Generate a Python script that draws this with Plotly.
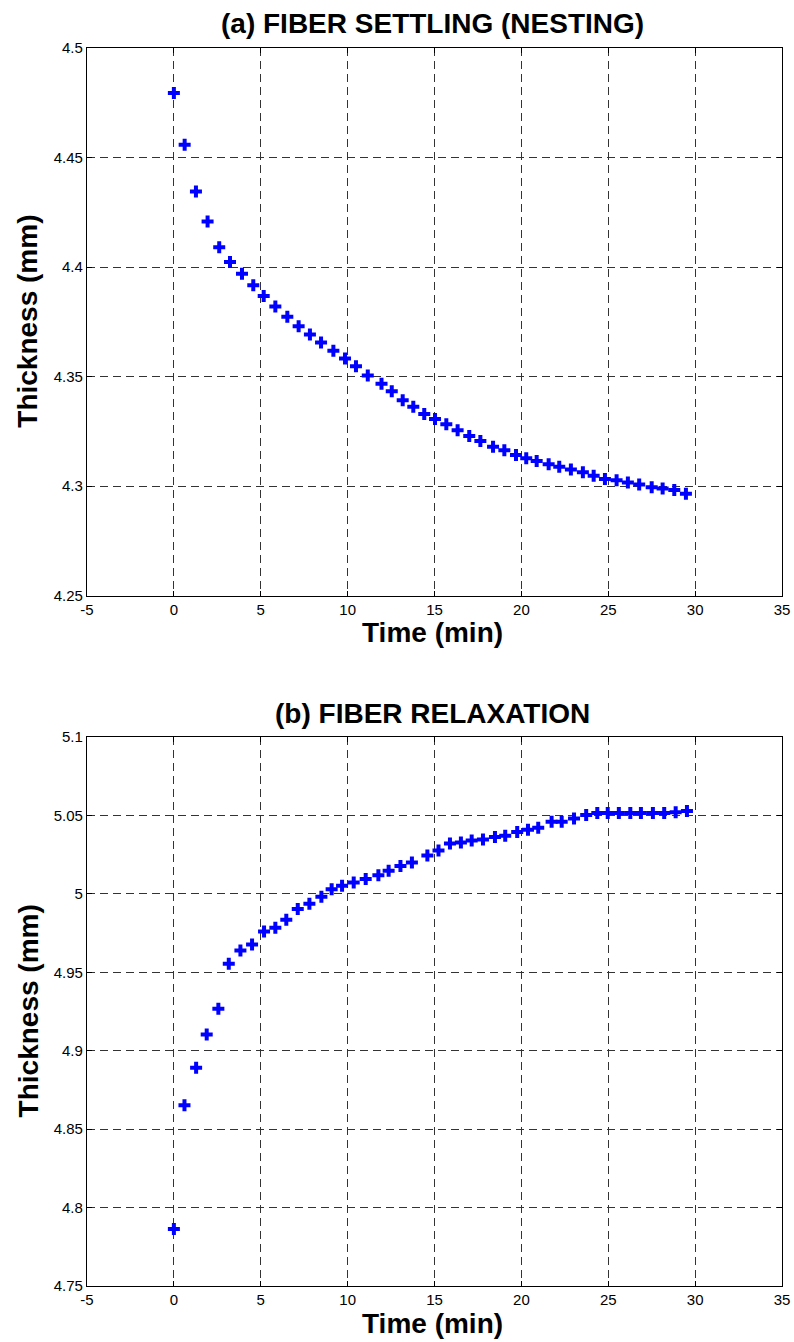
import plotly.graph_objects as go

# ---------------- data ----------------
time_a = [0, 0.62, 1.27, 1.94, 2.61, 3.23, 3.92, 4.57, 5.17, 5.84, 6.53, 7.18, 7.83, 8.47,
          9.18, 9.85, 10.48, 11.16, 11.95, 12.54, 13.17, 13.78, 14.41, 15.03, 15.68, 16.33,
          17.0, 17.64, 18.37, 19.02, 19.69, 20.28, 20.88, 21.57, 22.18, 22.85, 23.54, 24.16,
          24.81, 25.48, 26.13, 26.78, 27.50, 28.13, 28.80, 29.47]
thick_a = [4.4795, 4.4558, 4.4345, 4.4208, 4.4091, 4.4023, 4.3970, 4.3917, 4.3868, 4.3820,
           4.3773, 4.3730, 4.3692, 4.3656, 4.3618, 4.3583, 4.3547, 4.3505, 4.3468, 4.3433,
           4.3392, 4.3362, 4.3329, 4.3306, 4.3283, 4.3255, 4.3229, 4.3206, 4.3180, 4.3164,
           4.3142, 4.3127, 4.3115, 4.3100, 4.3089, 4.3076, 4.3064, 4.3047, 4.3033, 4.3027,
           4.3017, 4.3008, 4.2995, 4.2989, 4.2983, 4.2965]

time_b = [0, 0.61, 1.28, 1.89, 2.56, 3.16, 3.83, 4.50, 5.19, 5.84, 6.47, 7.13, 7.80, 8.49,
          9.08, 9.68, 10.35, 11.04, 11.77, 12.36, 13.04, 13.70, 14.59, 15.23, 15.89, 16.52,
          17.14, 17.79, 18.48, 19.07, 19.76, 20.38, 20.97, 21.74, 22.32, 23.03, 23.73, 24.37,
          24.97, 25.61, 26.27, 26.88, 27.57, 28.22, 28.88, 29.53]
thick_b = [4.7863, 4.8652, 4.8891, 4.9104, 4.9268, 4.9554, 4.9639, 4.9677, 4.9760, 4.9784,
           4.9835, 4.9903, 4.9937, 4.9982, 5.0029, 5.0052, 5.0072, 5.0095, 5.0118, 5.0148,
           5.0177, 5.0200, 5.0244, 5.0276, 5.0321, 5.0327, 5.0340, 5.0346, 5.0363, 5.0370,
           5.0395, 5.0408, 5.0421, 5.0459, 5.0459, 5.0481, 5.0502, 5.0515, 5.0515, 5.0515,
           5.0515, 5.0515, 5.0515, 5.0515, 5.0521, 5.0529]

x_ticks = [-5, 0, 5, 10, 15, 20, 25, 30, 35]
x_tick_labels = ["-5", "0", "5", "10", "15", "20", "25", "30", "35"]
y_ticks_a = [4.25, 4.3, 4.35, 4.4, 4.45, 4.5]
y_tick_labels_a = ["4.25", "4.3", "4.35", "4.4", "4.45", "4.5"]
y_ticks_b = [4.75, 4.8, 4.85, 4.9, 4.95, 5.0, 5.05, 5.1]
y_tick_labels_b = ["4.75", "4.8", "4.85", "4.9", "4.95", "5", "5.05", "5.1"]

title_a = "(a) FIBER SETTLING (NESTING)"
title_b = "(b) FIBER RELAXATION"
x_title = "Time (min)"
y_title = "Thickness (mm)"

# ---------------- figure ----------------
W, H = 794, 1342
ML, MR, MT, MB = 87, 12, 48, 56
plot_h = H - MT - MB


def py(px):
    """pixel y (from top) -> paper y"""
    return (H - MB - px) / plot_h


def pxx(px):
    return (px - ML) / (W - ML - MR)


FONT = "Liberation Sans, Arial, Helvetica, sans-serif"
marker = dict(symbol="cross", size=10, color="#0000FF", line=dict(width=0))

fig = go.Figure()
fig.add_trace(go.Scatter(x=time_a, y=thick_a, mode="markers", marker=marker,
                         xaxis="x", yaxis="y", showlegend=False, hoverinfo="skip"))
fig.add_trace(go.Scatter(x=time_b, y=thick_b, mode="markers", marker=marker,
                         xaxis="x2", yaxis="y2", showlegend=False, hoverinfo="skip"))

grid = dict(showgrid=True, gridcolor="#333333", gridwidth=1, griddash="8px,5px",
            zeroline=False, showline=True, linecolor="black", linewidth=1.2,
            mirror="allticks", ticks="inside", ticklen=5, tickcolor="black",
            automargin=False,
            tickfont=dict(family=FONT, size=15, color="black"))

top_dom = [py(595.7), 1.0]
bot_dom = [0.0, py(737)]

fig.update_layout(
    template="none",
    width=W, height=H,
    margin=dict(l=ML, r=MR, t=MT, b=MB, autoexpand=False),
    paper_bgcolor="white", plot_bgcolor="white",
    font=dict(family=FONT, color="black"),
    xaxis=dict(domain=[0, 1], anchor="y", range=[-5, 35], tickvals=x_ticks,
               ticktext=x_tick_labels, **grid),
    yaxis=dict(domain=top_dom, anchor="x", range=[4.25, 4.5], tickvals=y_ticks_a,
               ticktext=y_tick_labels_a, **grid),
    xaxis2=dict(domain=[0, 1], anchor="y2", range=[-5, 35], tickvals=x_ticks,
                ticktext=x_tick_labels, **grid),
    yaxis2=dict(domain=bot_dom, anchor="x2", range=[4.75, 5.1], tickvals=y_ticks_b,
                ticktext=y_tick_labels_b, **grid),
)

big = dict(family=FONT, size=28, color="black")
ann = []
ann.append(dict(text="<b>%s</b>" % title_a, x=pxx(432), y=py(24), xref="paper", yref="paper",
                xanchor="center", yanchor="middle", showarrow=False, font=big))
ann.append(dict(text="<b>%s</b>" % title_b, x=pxx(432), y=py(713), xref="paper", yref="paper",
                xanchor="center", yanchor="middle", showarrow=False, font=big))
ann.append(dict(text="<b>%s</b>" % x_title, x=pxx(432), y=py(632), xref="paper", yref="paper",
                xanchor="center", yanchor="middle", showarrow=False, font=big))
ann.append(dict(text="<b>%s</b>" % x_title, x=pxx(432), y=py(1323), xref="paper", yref="paper",
                xanchor="center", yanchor="middle", showarrow=False, font=big))
ann.append(dict(text="<b>%s</b>" % y_title, x=pxx(28), y=py(321.7), xref="paper", yref="paper",
                xanchor="center", yanchor="middle", textangle=-90, showarrow=False, font=big))
ann.append(dict(text="<b>%s</b>" % y_title, x=pxx(28), y=py(1011.4), xref="paper", yref="paper",
                xanchor="center", yanchor="middle", textangle=-90, showarrow=False, font=big))
fig.update_layout(annotations=ann)

fig.write_html("out.html", config={"displayModeBar": False},
               post_script="document.body.style.margin='0';document.body.style.overflow='hidden';")
